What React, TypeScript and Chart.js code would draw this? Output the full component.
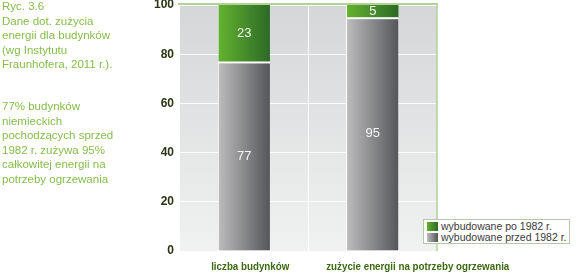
import React, { useEffect, useRef } from "react";
import { Chart, registerables } from "chart.js";

Chart.register(...registerables);

// ---- data ----
const categories = ["liczba budynków", "zużycie energii na potrzeby ogrzewania"];
const seriesNames = ["wybudowane przed 1982 r.", "wybudowane po 1982 r."];
const builtBefore1982 = [77, 95];
const builtAfter1982 = [23, 5];
const yTickValues = [0, 20, 40, 60, 80, 100];
const captionLines = [
  "Ryc. 3.6",
  "Dane dot. zużycia",
  "energii dla budynków",
  "(wg Instytutu",
  "Fraunhofera, 2011 r.).",
];
const noteLines = [
  "77% budynków",
  "niemieckich",
  "pochodzących sprzed",
  "1982 r. zużywa 95%",
  "całkowitej energii na",
  "potrzeby ogrzewania",
];

// ---- style ----
const BAR_PCT = 0.4;
const GREEN: [string, string] = ["#63b22f", "#2c6a26"];
const GRAY: [string, string] = ["#bcbcbd", "#55565a"];
const X_LABEL_SHIFT = [6, 45];
const X_LABEL_CONDENSE = 0.85;
const TEXT_GREEN = "#86bd4a";

function barGradient(context: any, stops: [string, string]) {
  const chart = context.chart;
  const xs = chart.scales && chart.scales.x;
  const i = context.dataIndex;
  if (!xs || i === undefined || !chart.chartArea) return stops[1];
  const cx = xs.getPixelForValue(i);
  const w = (xs.width / categories.length) * BAR_PCT;
  const g = chart.ctx.createLinearGradient(cx - w / 2, 0, cx + w / 2, 0);
  g.addColorStop(0, stops[0]);
  g.addColorStop(1, stops[1]);
  return g;
}

const plotBg = {
  id: "plotBg",
  beforeDraw(chart: any) {
    const { ctx, chartArea: a } = chart;
    const g = ctx.createLinearGradient(0, a.top, 0, a.bottom);
    g.addColorStop(0, "#d5d6d7");
    g.addColorStop(1, "#f0f1f1");
    ctx.save();
    ctx.fillStyle = g;
    ctx.fillRect(a.left, a.top, a.right - a.left, a.bottom - a.top);
    ctx.restore();
  },
};

const vLines = {
  id: "vLines",
  beforeDatasetsDraw(chart: any) {
    const { ctx, chartArea: a } = chart;
    const xs = chart.scales.x;
    const pos: number[] = [];
    chart.getDatasetMeta(0).data.forEach((el: any) => {
      pos.push(el.x - el.width / 2, el.x + el.width / 2);
    });
    for (let i = 1; i < categories.length; i++) {
      pos.push((xs.getPixelForValue(i - 1) + xs.getPixelForValue(i)) / 2);
    }
    ctx.save();
    ctx.strokeStyle = "rgba(255,255,255,0.9)";
    ctx.lineWidth = 1;
    pos.forEach((p) => {
      const px = Math.round(p) - 0.5;
      ctx.beginPath();
      ctx.moveTo(px, a.top);
      ctx.lineTo(px, a.bottom);
      ctx.stroke();
    });
    ctx.restore();
  },
};

const frameAndLabels = {
  id: "frameAndLabels",
  afterDatasetsDraw(chart: any) {
    const { ctx, chartArea: a } = chart;
    ctx.save();
    // value labels
    ctx.fillStyle = "#f4f4f4";
    ctx.font = "13px 'Liberation Sans', Arial, sans-serif";
    ctx.textAlign = "center";
    ctx.textBaseline = "middle";
    chart.data.datasets.forEach((ds: any, di: number) => {
      chart.getDatasetMeta(di).data.forEach((el: any, i: number) => {
        ctx.fillText(String(ds.data[i]), el.x, (el.y + el.base) / 2);
      });
    });
    // frame
    ctx.strokeStyle = "#aed394";
    ctx.lineWidth = 2;
    ctx.beginPath();
    ctx.moveTo(a.left - 2, a.top - 1);
    ctx.lineTo(a.right + 1, a.top - 1);
    ctx.stroke();
    ctx.lineWidth = 1.5;
    ctx.beginPath();
    ctx.moveTo(a.right, a.top - 1);
    ctx.lineTo(a.right, a.bottom);
    ctx.stroke();
    ctx.restore();
  },
  afterDraw(chart: any) {
    const { ctx, chartArea: a } = chart;
    const xs = chart.scales.x;
    ctx.save();
    ctx.fillStyle = "#3b6a12";
    ctx.font = "bold 11.5px 'Liberation Sans', Arial, sans-serif";
    ctx.textAlign = "center";
    ctx.textBaseline = "middle";
    categories.forEach((c, i) => {
      const cx = xs.getPixelForValue(i) + X_LABEL_SHIFT[i];
      ctx.save();
      ctx.translate(cx, a.bottom + 16);
      ctx.scale(X_LABEL_CONDENSE, 1);
      ctx.fillText(c, 0, 0);
      ctx.restore();
    });
    ctx.restore();
  },
};

function Swatch({ stops }: { stops: [string, string] }) {
  return (
    <span
      style={{
        display: "inline-block",
        width: 11,
        height: 9,
        marginRight: 3,
        verticalAlign: "-1px",
        background: `linear-gradient(to right, ${stops[0]}, ${stops[1]})`,
      }}
    />
  );
}

export default function App() {
  const canvasRef = useRef<HTMLCanvasElement | null>(null);

  useEffect(() => {
    document.body.style.margin = "0";
    const canvas = canvasRef.current;
    if (!canvas) return;
    const chart = new Chart(canvas, {
      type: "bar",
      data: {
        labels: categories,
        datasets: [
          {
            label: seriesNames[0],
            data: builtBefore1982,
            backgroundColor: (c: any) => barGradient(c, GRAY),
            borderColor: "rgba(255,255,255,0.95)",
            borderWidth: { top: 2, left: 0, right: 0, bottom: 0 } as any,
            borderSkipped: false,
          },
          {
            label: seriesNames[1],
            data: builtAfter1982,
            backgroundColor: (c: any) => barGradient(c, GREEN),
            borderWidth: 0,
          },
        ],
      },
      options: {
        responsive: false,
        animation: false,
        devicePixelRatio: 1,
        categoryPercentage: 1,
        barPercentage: BAR_PCT,
        layout: { padding: { left: 0, top: 5, right: 139, bottom: 0 } },
        plugins: { legend: { display: false }, tooltip: { enabled: false } },
        scales: {
          x: {
            stacked: true,
            grid: { display: false },
            border: { display: false },
            ticks: { display: false },
            afterFit: (s: any) => {
              s.height = 26;
              s.paddingLeft = 0;
              s.paddingRight = 0;
            },
          },
          y: {
            stacked: true,
            min: 0,
            max: 100,
            afterBuildTicks: (s: any) => {
              s.ticks = yTickValues.map((v) => ({ value: v }));
            },
            grid: { color: "rgba(255,255,255,0.9)", lineWidth: 1, drawTicks: false },
            border: { display: false },
            ticks: {
              padding: 6,
              color: "#2b3415",
              font: { family: "'Liberation Sans', Arial, sans-serif", size: 12, weight: "bold" },
            },
            afterFit: (s: any) => {
              s.width = 180;
              s.paddingTop = 0;
              s.paddingBottom = 0;
            },
          },
        },
      } as any,
      plugins: [plotBg, vLines, frameAndLabels],
    });
    return () => chart.destroy();
  }, []);

  const textStyle: React.CSSProperties = {
    position: "absolute",
    left: 2,
    fontFamily: "'Liberation Sans', Arial, sans-serif",
    fontSize: 11.5,
    lineHeight: "14.5px",
    color: TEXT_GREEN,
    whiteSpace: "nowrap",
  };

  return (
    <div style={{ position: "relative", width: 576, height: 277, overflow: "hidden", background: "#fff" }}>
      <canvas ref={canvasRef} width={576} height={277} style={{ display: "block", width: 576, height: 277 }} />
      <div style={{ ...textStyle, top: -1 }}>
        {captionLines.map((l, i) => (
          <div key={i}>{l}</div>
        ))}
      </div>
      <div style={{ ...textStyle, top: 99 }}>
        {noteLines.map((l, i) => (
          <div key={i}>{l}</div>
        ))}
      </div>
      <div
        style={{
          position: "absolute",
          left: 423,
          top: 219,
          width: 142,
          height: 22,
          border: "1px solid #b9c6aa",
          background: "#fff",
          padding: "1px 0 0 3px",
          fontFamily: "'Liberation Sans', Arial, sans-serif",
          fontSize: 10.5,
          lineHeight: "11px",
          color: "#3a3a3a",
          whiteSpace: "nowrap",
        }}
      >
        <div>
          <Swatch stops={GREEN} />
          {seriesNames[1]}
        </div>
        <div>
          <Swatch stops={GRAY} />
          {seriesNames[0]}
        </div>
      </div>
    </div>
  );
}
